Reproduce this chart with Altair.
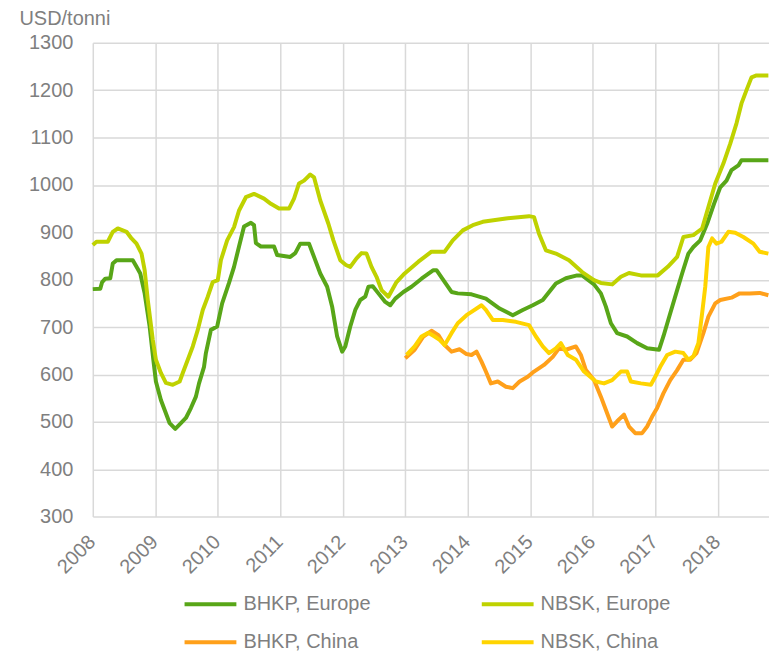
import altair as alt
import pandas as pd

bhkp_eu_year = [2008.00, 2008.12, 2008.15, 2008.20, 2008.28, 2008.32, 2008.38, 2008.64, 2008.70, 2008.76,
                2008.83, 2008.91, 2008.97, 2009.01, 2009.09, 2009.15, 2009.23, 2009.32, 2009.41, 2009.49,
                2009.57, 2009.65, 2009.70, 2009.78, 2009.81, 2009.89, 2009.99, 2010.07, 2010.18, 2010.26,
                2010.34, 2010.42, 2010.53, 2010.58, 2010.61, 2010.69, 2010.90, 2010.95, 2011.16, 2011.24,
                2011.32, 2011.46, 2011.54, 2011.64, 2011.75, 2011.83, 2011.91, 2011.99, 2012.04, 2012.12,
                2012.20, 2012.28, 2012.36, 2012.41, 2012.48, 2012.57, 2012.68, 2012.76, 2012.84, 2012.97,
                2013.10, 2013.26, 2013.45, 2013.50, 2013.61, 2013.74, 2013.84, 2014.06, 2014.29, 2014.51,
                2014.72, 2014.88, 2015.04, 2015.20, 2015.41, 2015.57, 2015.75, 2015.83, 2015.92, 2016.02,
                2016.13, 2016.21, 2016.29, 2016.39, 2016.55, 2016.71, 2016.87, 2017.06, 2017.13, 2017.24,
                2017.35, 2017.43, 2017.53, 2017.61, 2017.72, 2017.83, 2017.94, 2018.04, 2018.14, 2018.22,
                2018.33, 2018.38, 2018.81]
bhkp_eu_val = [780, 781, 795, 802, 803, 834, 841, 841, 827, 813,
               771, 701, 630, 585, 546, 525, 497, 485, 497, 508,
               529, 553, 581, 616, 645, 694, 701, 750, 793, 827,
               870, 912, 920, 915, 877, 870, 870, 852, 848, 856,
               876, 876, 848, 813, 785, 743, 680, 648, 659, 701,
               736, 757, 764, 785, 786, 771, 753, 746, 760, 774,
               785, 802, 820, 820, 799, 774, 771, 769, 760, 739,
               725, 736, 746, 757, 792, 803, 809, 809, 800, 790,
               771, 743, 708, 687, 680, 666, 655, 652, 680, 729,
               778, 813, 855, 869, 883, 918, 960, 995, 1009, 1031,
               1041, 1052, 1052]

nbsk_eu_year = [2008.00, 2008.06, 2008.24, 2008.32, 2008.40, 2008.54, 2008.62, 2008.70, 2008.78, 2008.83,
                2008.88, 2008.96, 2009.01, 2009.09, 2009.17, 2009.28, 2009.39, 2009.44, 2009.52, 2009.60,
                2009.68, 2009.76, 2009.84, 2009.92, 2010.00, 2010.05, 2010.15, 2010.26, 2010.34, 2010.45,
                2010.58, 2010.74, 2010.85, 2010.98, 2011.14, 2011.22, 2011.30, 2011.38, 2011.48, 2011.54,
                2011.64, 2011.77, 2011.85, 2011.96, 2012.05, 2012.12, 2012.22, 2012.30, 2012.38, 2012.46,
                2012.54, 2012.62, 2012.73, 2012.86, 2012.99, 2013.21, 2013.42, 2013.63, 2013.76, 2013.92,
                2014.08, 2014.24, 2014.61, 2014.98, 2015.06, 2015.14, 2015.25, 2015.41, 2015.62, 2015.83,
                2016.02, 2016.13, 2016.31, 2016.45, 2016.58, 2016.77, 2017.04, 2017.20, 2017.35, 2017.45,
                2017.61, 2017.75, 2017.85, 2017.96, 2018.09, 2018.20, 2018.30, 2018.38, 2018.46, 2018.54,
                2018.62, 2018.81]
nbsk_eu_val = [873, 880, 880, 901, 908, 901, 887, 876, 855, 820,
               757, 673, 631, 603, 582, 578, 585, 603, 631, 659,
               694, 736, 764, 795, 799, 841, 883, 911, 946, 974,
               981, 971, 960, 950, 950, 971, 1003, 1009, 1022, 1016,
               967, 918, 883, 841, 831, 827, 845, 856, 855, 827,
               806, 778, 764, 795, 813, 838, 859, 859, 883, 904,
               915, 922, 929, 934, 932, 897, 862, 855, 841, 816,
               799, 793, 790, 806, 814, 809, 809, 827, 848, 890,
               894, 908, 953, 1003, 1045, 1087, 1130, 1172, 1200, 1227,
               1231, 1231]

bhkp_cn_year = [2013.00, 2013.15, 2013.29, 2013.42, 2013.53, 2013.63, 2013.74, 2013.87, 2013.98, 2014.06,
                2014.14, 2014.22, 2014.29, 2014.37, 2014.48, 2014.61, 2014.72, 2014.83, 2014.96, 2015.06,
                2015.22, 2015.36, 2015.46, 2015.57, 2015.73, 2015.81, 2015.89, 2016.02, 2016.13, 2016.23,
                2016.31, 2016.39, 2016.50, 2016.58, 2016.68, 2016.79, 2016.87, 2016.95, 2017.03, 2017.13,
                2017.24, 2017.35, 2017.45, 2017.56, 2017.66, 2017.77, 2017.85, 2017.96, 2018.04, 2018.22,
                2018.35, 2018.51, 2018.67, 2018.81]
bhkp_cn_val = [634, 652, 680, 692, 683, 662, 648, 653, 643, 641,
               648, 627, 606, 581, 585, 574, 571, 585, 595, 606,
               620, 637, 655, 652, 659, 641, 609, 588, 553, 518,
               490, 501, 515, 490, 476, 476, 490, 511, 529, 560,
               588, 609, 631, 631, 645, 687, 722, 750, 757, 762,
               771, 771, 772, 767]

nbsk_cn_year = [2013.02, 2013.15, 2013.26, 2013.37, 2013.47, 2013.55, 2013.63, 2013.74, 2013.84, 2013.98,
                2014.06, 2014.22, 2014.29, 2014.40, 2014.56, 2014.77, 2014.98, 2015.09, 2015.20, 2015.30,
                2015.41, 2015.49, 2015.60, 2015.73, 2015.86, 2016.05, 2016.18, 2016.31, 2016.45, 2016.55,
                2016.61, 2016.77, 2016.93, 2017.00, 2017.08, 2017.19, 2017.32, 2017.45, 2017.53, 2017.61,
                2017.69, 2017.75, 2017.80, 2017.85, 2017.91, 2017.98, 2018.06, 2018.17, 2018.28, 2018.41,
                2018.57, 2018.67, 2018.81]
nbsk_cn_val = [641, 659, 680, 688, 680, 673, 662, 687, 708, 725,
               732, 746, 736, 715, 715, 711, 704, 680, 659, 645,
               655, 666, 641, 631, 606, 585, 581, 588, 606, 606,
               585, 581, 578, 595, 616, 641, 648, 645, 631, 638,
               666, 729, 785, 869, 887, 876, 880, 901, 899, 890,
               876, 859, 855]

series_names = ["BHKP, Europe", "NBSK, Europe", "BHKP, China", "NBSK, China"]
series_colors = ["#58a618", "#bfd200", "#ffa01a", "#ffd400"]
year_ticks = list(range(2008, 2019))
value_ticks = list(range(300, 1301, 100))

frames = []
for name, xs, ys in [
    (series_names[0], bhkp_eu_year, bhkp_eu_val),
    (series_names[1], nbsk_eu_year, nbsk_eu_val),
    (series_names[2], bhkp_cn_year, bhkp_cn_val),
    (series_names[3], nbsk_cn_year, nbsk_cn_val),
]:
    frames.append(pd.DataFrame({"year": xs, "value": ys, "series": name,
                                "order": series_names.index(name)}))
df = pd.concat(frames, ignore_index=True)

FONT = "Liberation Sans"
GREY = "#7f7f7f"
GRID = "#d9d9d9"

chart = alt.Chart(df).mark_line(strokeWidth=4, strokeJoin="round").encode(
    x=alt.X("year:Q",
            scale=alt.Scale(domain=[2008, 2018.82], nice=False, zero=False),
            axis=alt.Axis(values=year_ticks, format="d", labelAngle=-45, title=None,
                          grid=True, gridColor=GRID, gridWidth=1.5, domain=False, ticks=False,
                          labelPadding=15, labelOffset=-8, labelFontSize=20, labelColor=GREY,
                          labelFont=FONT)),
    y=alt.Y("value:Q",
            scale=alt.Scale(domain=[300, 1300], nice=False, zero=False),
            axis=alt.Axis(values=value_ticks, format="d", title="USD/tonni", titleAngle=0,
                          titleAlign="left", titleBaseline="alphabetic", titleX=-74, titleY=-18,
                          titleFontSize=20, titleFontWeight="normal", titleColor=GREY, titleFont=FONT,
                          grid=True, gridColor=GRID, gridWidth=1.5, domain=False, ticks=False,
                          labelPadding=20, labelFontSize=20, labelColor=GREY, labelFont=FONT)),
    color=alt.Color("series:N",
                    scale=alt.Scale(domain=series_names, range=series_colors),
                    legend=alt.Legend(title=None, orient="none", legendX=90, legendY=535,
                                      direction="horizontal", columns=2, columnPadding=103,
                                      rowPadding=-1,
                                      symbolType="stroke", symbolSize=2700, symbolStrokeWidth=4,
                                      labelFontSize=20, labelColor=GREY, labelFont=FONT,
                                      labelOffset=5, padding=0)),
    detail="series:N",
    order="order:Q",
).properties(
    width=678,
    height=475,
    autosize=alt.AutoSizeParams(type="none"),
    padding={"left": 85, "top": 34, "right": 0, "bottom": 145},
).configure_view(stroke=None)

chart.save("out.html", embed_options={"renderer": "svg", "actions": False})
